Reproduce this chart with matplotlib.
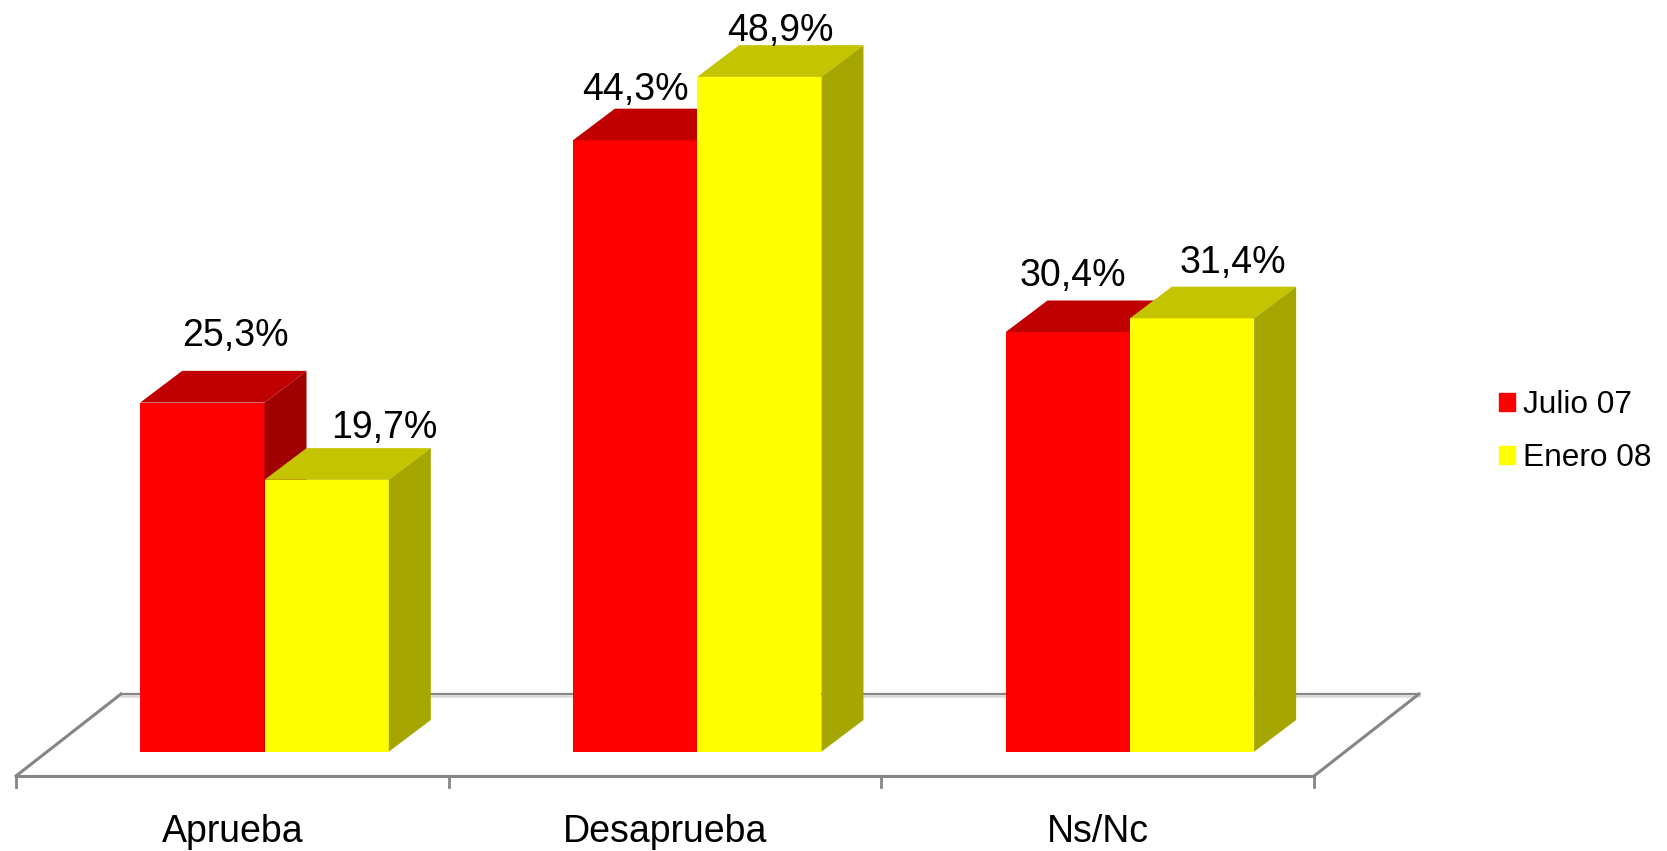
#!/usr/bin/env python3
"""Fake 3D bar chart: approval, Julio 07 vs Enero 08."""

import matplotlib
matplotlib.use("Agg")
import matplotlib.pyplot as plt
import numpy as np

plt.rcParams["font.family"] = ["Liberation Sans", "DejaVu Sans"]

categories = ["Aprueba", "Desaprueba", "Ns/Nc"]
series_names = ["Julio 07", "Enero 08"]
julio = [25.3, 44.3, 30.4]
enero = [19.7, 48.9, 31.4]

# hand placed labels in the original, offsets in pixels from bar top centre
julio_offsets = [(33, 67), (0, 50), (5, 56)]
enero_offsets = [(58, 52), (21, 46), (41, 55)]

# layout, worked out from pixels: 1 category = 432.67 px, 1 % = 13.8 px
W, H = 1667, 851
PX_X = 432.67
PX_Y = 13.8
X0 = 264.5
Y0 = 751.7
BAR_W = 124.3 / PX_X
DX = 42 / PX_X
DY = 31.7 / PX_Y
FLOOR_DX = 105 / PX_X
FLOOR_FRONT = -24.3 / PX_Y
FLOOR_BACK = 57.7 / PX_Y
TICK_LOW = -35.3 / PX_Y
AXIS_LEFT = -248.5 / PX_X
GREY = "#868686"


def bar3d(ax, x, value, front, top, side, z):
    ax.bar(x, value, BAR_W, align="edge", color=front, linewidth=0, zorder=z)
    ax.fill([x, x + DX, x + BAR_W + DX, x + BAR_W],
            [value, value + DY, value + DY, value],
            color=top, linewidth=0, zorder=z)
    ax.fill([x + BAR_W, x + BAR_W + DX, x + BAR_W + DX, x + BAR_W],
            [0, DY, value + DY, value],
            color=side, linewidth=0, zorder=z)


fig = plt.figure(figsize=(W / 100, H / 100), dpi=100)
ax = fig.add_axes([0, 0, 1, 1])
ax.set_xlim(-X0 / PX_X, (W - X0) / PX_X)
ax.set_ylim(-(H - Y0) / PX_Y, Y0 / PX_Y)
ax.axis("off")

# floor
edges = AXIS_LEFT + np.arange(len(categories) + 1)
ax.plot([edges[0], edges[-1]], [FLOOR_FRONT, FLOOR_FRONT], color=GREY, lw=2.2, zorder=1)
ax.plot([edges[0] + FLOOR_DX, edges[-1] + FLOOR_DX], [FLOOR_BACK, FLOOR_BACK], color=GREY, lw=1.6, zorder=1)
ax.plot([edges[0] + FLOOR_DX, edges[-1] + FLOOR_DX], [FLOOR_BACK - 0.17, FLOOR_BACK - 0.17], color="#D9D9D9", lw=1.8, zorder=1)
for e in [edges[0], edges[-1]]:
    ax.plot([e, e + FLOOR_DX], [FLOOR_FRONT, FLOOR_BACK], color=GREY, lw=2.2, zorder=1)
for e in edges:
    ax.plot([e, e], [FLOOR_FRONT, TICK_LOW], color=GREY, lw=2.0, zorder=1)

# bars
for i in range(len(categories)):
    left = i - BAR_W
    bar3d(ax, left, julio[i], "#FF0000", "#C00000", "#A00000", 2 + i * 2)
    bar3d(ax, i, enero[i], "#FFFF00", "#C4C400", "#A6A600", 3 + i * 2)
    ax.annotate(f"{julio[i]:.1f}%".replace(".", ","), (left + BAR_W / 2, julio[i]),
                xytext=julio_offsets[i], textcoords="offset pixels",
                ha="center", va="center", fontsize=27, color="black", zorder=20)
    ax.annotate(f"{enero[i]:.1f}%".replace(".", ","), (i + BAR_W / 2, enero[i]),
                xytext=enero_offsets[i], textcoords="offset pixels",
                ha="center", va="center", fontsize=27, color="black", zorder=20)
    ax.text((edges[i] + edges[i + 1]) / 2, -80.5 / PX_Y, categories[i],
            ha="center", va="center", fontsize=27, color="black")

# legend
handles = [plt.Rectangle((0, 0), 1, 1, color=c) for c in ["#FF0000", "#FFFF00"]]
ax.legend(handles, series_names, loc="upper left", bbox_to_anchor=(1499 / W, 1 - 390 / H),
          bbox_transform=fig.transFigure, frameon=False, fontsize=22.8, borderpad=0,
          borderaxespad=0, handlelength=0.5, handleheight=0.5, handletextpad=0.25,
          labelspacing=0.72)

fig.savefig("out.png", dpi=100)
